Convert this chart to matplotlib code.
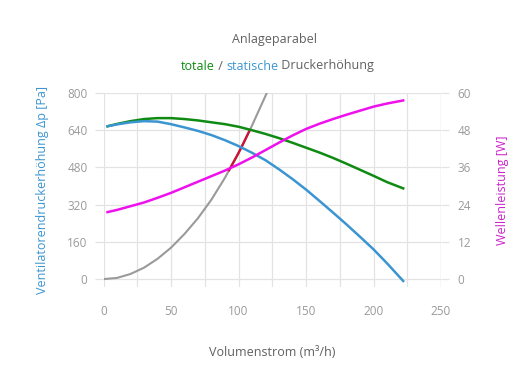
import matplotlib
matplotlib.use("Agg")
import matplotlib.pyplot as plt
from matplotlib.ticker import MultipleLocator

plt.rcParams['font.family'] = ['Open Sans', 'DejaVu Sans']

# Volumenstrom (m3/h)
flow = [3, 10, 20, 30, 40, 50, 60, 70, 80, 90, 100, 110, 120, 130, 140, 150,
        160, 170, 180, 190, 200, 210, 222]
# statische Druckerhoehung (Pa)
static_p = [657, 665, 674, 679, 677, 666, 652, 637, 619, 597, 572, 543, 511, 472,
            430, 385, 336, 286, 235, 182, 128, 68, -8]
# totale Druckerhoehung (Pa)
total_p = [657, 667, 679, 688, 692, 692, 688, 682, 674, 666, 655, 640, 624, 606,
           586, 565, 544, 521, 496, 470, 444, 417, 390]
# Wellenleistung (W)
power = [21.6, 22.3, 23.5, 24.7, 26.2, 27.8, 29.6, 31.4, 33.2, 35.0, 37.0, 39.2,
         41.6, 44.0, 46.3, 48.4, 50.1, 51.6, 53.0, 54.3, 55.6, 56.6, 57.6]

# Anlageparabel
sys_flow = [0, 10, 20, 30, 40, 50, 60, 70, 80, 90, 100, 110, 120, 125]
sys_p = [0, 5, 22, 49, 87, 135, 194, 262, 342, 436, 542, 660, 788, 852]
# Betriebsbereich auf der Anlageparabel
op_flow = [93, 97, 100, 103, 105, 108]
op_p = [468, 510, 542, 576, 600, 636]

BLUE = "#3b95d1"
GREEN = "#0f8a12"
MAGENTA = "#ee11ee"
GRAY = "#9a9a9a"
RED = "#cc1133"
TXT = "#606060"
TICK = "#9a9a9a"
GRID = "#e3e3e3"

fig = plt.figure(figsize=(5.3, 3.9), dpi=100)
W, H = 530, 390
ax = fig.add_axes([103.5 / W, 1 - 287 / H, (441 - 103.5) / W, (287 - 93) / H])
ax2 = ax.twinx()

ax.plot(sys_flow, sys_p, color=GRAY, lw=1.5, zorder=2)
ax.plot(op_flow, op_p, color=RED, lw=1.7, zorder=3)
ax.plot(flow, total_p, color=GREEN, lw=1.8, zorder=3)
ax.plot(flow, static_p, color=BLUE, lw=1.8, zorder=4)
ax2.plot(flow, power, color=MAGENTA, lw=1.8)

ax.set_xlim(0, 250)
ax.set_ylim(-34, 800)
ax2.set_ylim(-34 * 60 / 800, 60)
ax.xaxis.set_major_locator(MultipleLocator(50))
ax.xaxis.set_minor_locator(MultipleLocator(25))
ax.yaxis.set_major_locator(MultipleLocator(160))
ax2.yaxis.set_major_locator(MultipleLocator(12))

ax.grid(True, which='both', axis='x', color=GRID, lw=0.9)
ax.grid(True, axis='y', color=GRID, lw=0.9)
ax.set_axisbelow(True)
for a in (ax, ax2):
    for s in a.spines.values():
        s.set_visible(False)

ax.tick_params(axis='x', which='both', length=0, pad=13, labelsize=8.5, labelcolor=TICK)
ax.tick_params(axis='y', length=6.5, width=0.9, color=GRID, pad=5, labelsize=8.5, labelcolor=TICK)
ax2.tick_params(axis='y', length=6, width=0.9, color=GRID, pad=6, labelsize=8.5, labelcolor=TICK)
ax2.axvline(250, color=GRID, lw=0.9)

ax.set_xlabel("Volumenstrom (m³/h)", color=TXT, fontsize=9, labelpad=20)
ax.set_ylabel("Ventilatorendruckerhöhung Δp [Pa]", color=BLUE, fontsize=9, labelpad=13)
ax2.set_ylabel("Wellenleistung [W]", color="#cc22cc", fontsize=9, labelpad=18)

# Titel und mehrfarbiger Untertitel
fig.text(274 / W, 1 - 40 / H, "Anlageparabel", ha='center', va='center', color=TXT, fontsize=9)
t1 = fig.text(181 / W, 1 - 66 / H, "totale", ha='left', va='center', color=GREEN, fontsize=9)
t2 = ax.annotate(" / ", xy=(1, 0), xycoords=t1, va='bottom', ha='left', color=TXT, fontsize=9)
t3 = ax.annotate("statische", xy=(1, 0), xycoords=t2, va='bottom', ha='left', color=BLUE, fontsize=9)
ax.annotate(" Druckerhöhung", xy=(1, 0), xycoords=t3, va='bottom', ha='left', color=TXT, fontsize=9)

fig.savefig("out.png", dpi=100, facecolor='white')
